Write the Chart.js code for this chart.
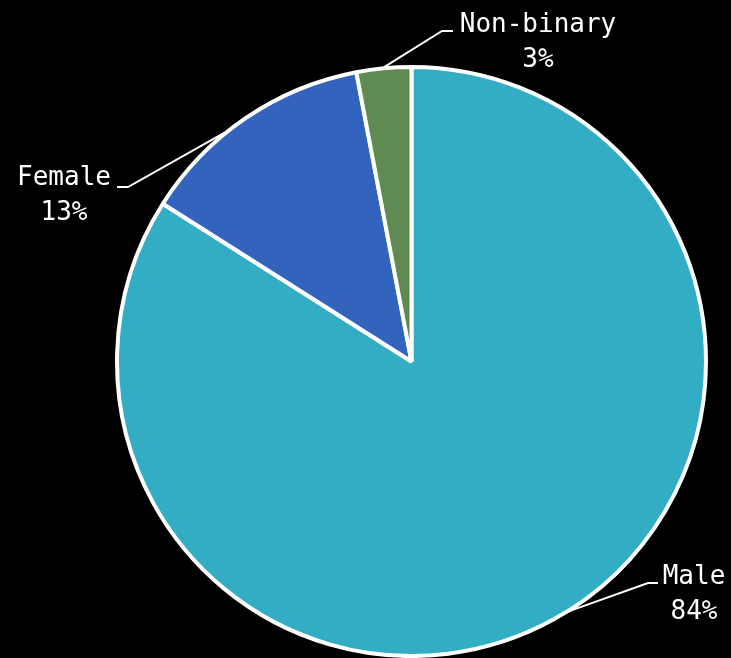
<!DOCTYPE html>
<html>
<head>
<meta charset="utf-8">
<script src="https://cdn.jsdelivr.net/npm/chart.js@4/dist/chart.umd.min.js"></script>
<style>
  html, body { margin: 0; padding: 0; background: #000; }
  #wrap { width: 731px; height: 658px; }
</style>
</head>
<body>
<div id="wrap"><canvas id="chart_one" width="731" height="658"></canvas></div>
<script>
// data
var categories = ["Male", "Female", "Non-binary"];
var shares = [84, 13, 3];
var sliceColors = ["#32adc4", "#3364bd", "#5f8a52"];

// where each label sits (text centre x, first baseline y), its leader elbow,
// and how far along its slice the leader leaves the rim
var labelPlaces = [
	{ x: 694, y: 584, elbowX: 648, elbowY: 583, tickX: 658, along: 0.488 },
	{ x: 64, y: 185, elbowX: 128, elbowY: 187, tickX: 117, along: 0.39 },
	{ x: 538, y: 32, elbowX: 442, elbowY: 31, tickX: 453, along: 0.5 }
];

var calloutPlugin = {
	id: "callouts",
	afterDatasetsDraw: function(chart) {
		var ctx = chart.ctx;
		var meta = chart.getDatasetMeta(0);
		var total = shares.reduce((acc, v) => acc + v, 0);
		ctx.save();
		meta.data.forEach((arc, i) => {
			var p = arc.getProps(["x", "y", "startAngle", "endAngle", "outerRadius"], true);
			var place = labelPlaces[i];
			var a = p.startAngle + (p.endAngle - p.startAngle) * place.along;
			var sx = p.x + Math.cos(a) * (p.outerRadius + 1);
			var sy = p.y + Math.sin(a) * (p.outerRadius + 1);
			ctx.strokeStyle = "#ffffff";
			ctx.lineWidth = 2;
			ctx.beginPath();
			ctx.moveTo(sx, sy);
			ctx.lineTo(place.elbowX, place.elbowY);
			ctx.lineTo(place.tickX, place.elbowY);
			ctx.stroke();

			ctx.fillStyle = "#ffffff";
			ctx.font = "26px 'DejaVu Sans Mono'";
			ctx.textAlign = "center";
			ctx.textBaseline = "alphabetic";
			ctx.fillText(categories[i], place.x, place.y);
			ctx.fillText(Math.round(shares[i] / total * 100) + "%", place.x, place.y + 35);
		});
		ctx.restore();
	}
};

var ctx_one = document.getElementById("chart_one").getContext("2d");
var chart_one = new Chart(ctx_one, {
	type: "pie",
	data: {
		labels: categories,
		datasets: [
			{
				data: shares,
				backgroundColor: sliceColors,
				borderColor: "#ffffff",
				borderWidth: 4
			}
		]
	},
	options: {
		responsive: false,
		animation: false,
		layout: { padding: { left: 115, right: 23, top: 65, bottom: 0 } },
		plugins: {
			legend: { display: false },
			tooltip: { enabled: false }
		}
	},
	plugins: [calloutPlugin]
});
</script>
</body>
</html>
